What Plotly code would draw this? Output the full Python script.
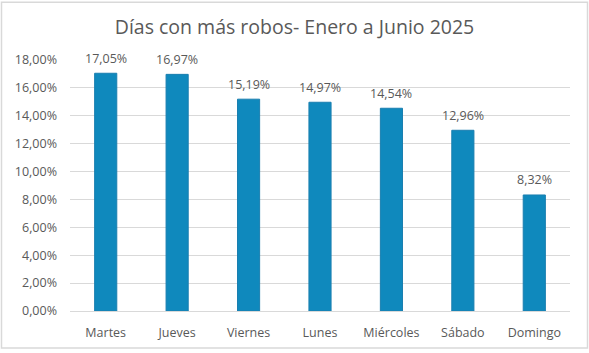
import plotly.graph_objects as go

dias = ["Martes", "Jueves", "Viernes", "Lunes", "Miércoles", "Sábado", "Domingo"]
porcentajes = [0.1705, 0.1697, 0.1519, 0.1497, 0.1454, 0.1296, 0.0832]
tick_vals = [0, 0.02, 0.04, 0.06, 0.08, 0.10, 0.12, 0.14, 0.16, 0.18]

FONT = "Open Sans"
GRAY = "#595959"

fig = go.Figure(go.Bar(
    x=dias, y=porcentajes,
    marker=dict(color="#0F89BD", line=dict(color="#1A7FB0", width=1)),
    width=0.31,
    cliponaxis=False,
))

for d, p in zip(dias, porcentajes):
    fig.add_annotation(x=d, y=p, text=f"{p*100:.2f}%".replace(".", ","),
                       showarrow=False, yanchor="middle", yshift=15,
                       font=dict(family=FONT, size=12.5, color=GRAY))

W, H = 589, 353
L, R, T, B = 70, 19, 60, 39
pw, ph = W - L - R, H - T - B

fig.update_layout(
    width=W, height=H,
    margin=dict(l=L, r=R, t=T, b=B),
    paper_bgcolor="white", plot_bgcolor="white",
    separators=",.",
    title=dict(text="Días con más robos- Enero a Junio 2025", x=0.5, xanchor="center",
               y=1 - 27 / H, yanchor="middle",
               font=dict(family=FONT, size=19.5, color=GRAY)),
    showlegend=False,
    bargap=0.69,
    yaxis=dict(range=[0, 0.18], tickvals=tick_vals, tickformat=".2%",
               gridcolor="#D9D9D9", gridwidth=1, zeroline=False,
               tickfont=dict(family=FONT, size=12.5, color=GRAY),
               ticklabelstandoff=12, showline=False),
    xaxis=dict(tickfont=dict(family=FONT, size=12.5, color=GRAY),
               showline=True, linecolor="#D9D9D9", linewidth=1,
               ticklabelstandoff=10),
    shapes=[dict(type="rect", xref="paper", yref="paper",
                 x0=(1.5 - L) / pw, x1=(W - 1.5 - L) / pw,
                 y0=-(H - 1.5 - T - ph) / ph, y1=1 + (T - 1.5) / ph,
                 line=dict(color="#D9D9D9", width=1.5), fillcolor="rgba(0,0,0,0)",
                 layer="below")],
)

fig.write_html("out.html")
